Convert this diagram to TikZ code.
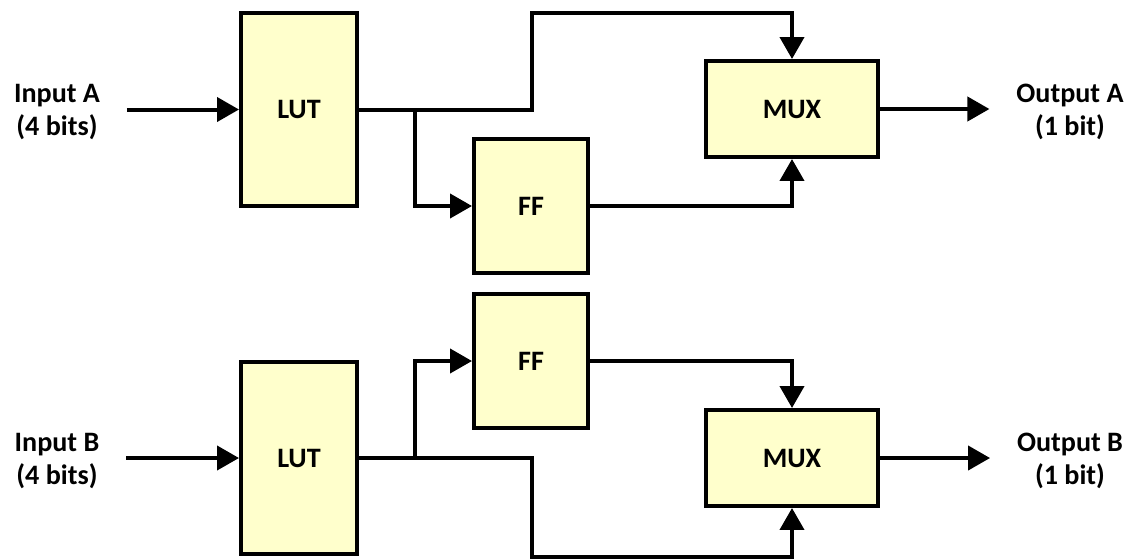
\documentclass[tikz,border=0pt]{standalone}
\usepackage{fontspec}
\setmainfont{Carlito}
\usetikzlibrary{arrows.meta}
\definecolor{boxfill}{HTML}{FFFFCC}
\begin{document}
\begin{tikzpicture}[x=0.02cm,y=-0.02cm,line width=0.08cm,line join=miter,
		font=\fontsize{16}{18.8}\selectfont\bfseries,
		>={Triangle[length=0.44cm,width=0.48cm]}]
			\tikzset{blk/.style={draw,fill=boxfill,inner sep=0pt},
				lut/.style={blk,minimum width=2.32cm,minimum height=3.86cm},
				ff/.style={blk,minimum width=2.28cm,minimum height=2.68cm},
				mux/.style={blk,minimum width=3.46cm,minimum height=1.92cm},
				io/.style={align=center,inner xsep=0.5cm,inner ysep=0pt}
			}
			\useasboundingbox (0,0) rectangle (1136,559);
			% top half
			\node[io] (inA) at (57,112) {Input A\\(4 bits)};
			\node[lut] (lutA) at (299,109.5) {LUT};
			\node[ff] (ffA) at (531,206) {FF};
			\node[mux] (muxA) at (792,109) {MUX};
			\node[io] (outA) at (1070,112) {Output A\\(1 bit)};
			\coordinate (jA) at (415,109);
			\coordinate (tA) at (532,13);
			% bottom half
			\node[io] (inB) at (57,461) {Input B\\(4 bits)};
			\node[lut] (lutB) at (299,458) {LUT};
			\node[ff] (ffB) at (531,361) {FF};
			\node[mux] (muxB) at (792,458) {MUX};
			\node[io] (outB) at (1070,461) {Output B\\(1 bit)};
			\coordinate (jB) at (415,458);
			\coordinate (tB) at (532,557);
			% wires
			\draw[->] (inA.east |- lutA.west) -- (lutA.west);
			\draw[->] (lutA.east) -| (tA) -| (muxA.north);
			\draw[->] (jA) |- (ffA.west);
			\draw[->] (ffA.east) -| (muxA.south);
			\draw[->] (muxA.east) -- (outA.west |- muxA.east);
			\draw[->] (inB.east |- lutB.west) -- (lutB.west);
			\draw[->] (lutB.east) -| (tB) -| (muxB.south);
			\draw[->] (jB) |- (ffB.west);
			\draw[->] (ffB.east) -| (muxB.north);
			\draw[->] (muxB.east) -- (outB.west |- muxB.east);
		\end{tikzpicture}
\end{document}
